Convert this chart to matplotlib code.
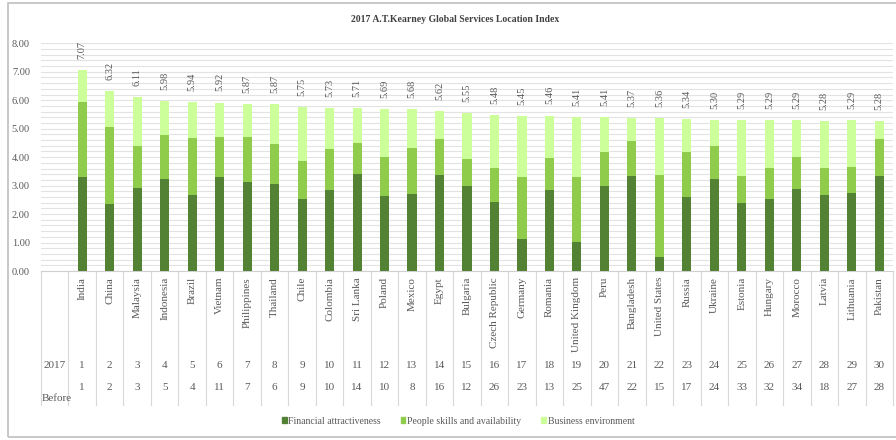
import matplotlib.pyplot as plt
from matplotlib.patches import Patch, Rectangle
from matplotlib.transforms import blended_transform_factory

plt.rcParams['font.family'] = ['Liberation Serif', 'DejaVu Serif']

# ---------------------------------------------------------------------------
# Data
# ---------------------------------------------------------------------------
countries = ["India", "China", "Malaysia", "Indonesia", "Brazil", "Vietnam",
             "Philippines", "Thailand", "Chile", "Colombia", "Sri Lanka",
             "Poland", "Mexico", "Egypt", "Bulgaria", "Czech Republic",
             "Germany", "Romania", "United Kingdom", "Peru", "Bangladesh",
             "United States", "Russia", "Ukraine", "Estonia", "Hungary",
             "Morocco", "Latvia", "Lithuania", "Pakistan"]
financial = [3.29, 2.35, 2.90, 3.24, 2.66, 3.30, 3.14, 3.04, 2.53, 2.83,
             3.41, 2.62, 2.72, 3.36, 2.97, 2.42, 1.14, 2.83, 1.02, 2.99,
             3.35, 0.50, 2.61, 3.23, 2.39, 2.52, 2.88, 2.68, 2.73, 3.35]
people = [2.65, 2.72, 1.49, 1.54, 2.00, 1.40, 1.56, 1.41, 1.33, 1.47,
          1.07, 1.38, 1.61, 1.27, 0.96, 1.20, 2.16, 1.14, 2.28, 1.18,
          1.21, 2.86, 1.56, 1.15, 0.96, 1.10, 1.12, 0.94, 0.92, 1.30]
totals = [7.07, 6.32, 6.11, 5.98, 5.94, 5.92, 5.87, 5.87, 5.75, 5.73,
          5.71, 5.69, 5.68, 5.62, 5.55, 5.48, 5.45, 5.46, 5.41, 5.41,
          5.37, 5.36, 5.34, 5.30, 5.29, 5.29, 5.29, 5.28, 5.29, 5.28]
rank_2017 = list(range(1, 31))
rank_before = [1, 2, 3, 5, 4, 11, 7, 6, 9, 10, 14, 10, 8, 16, 12, 26, 23, 13,
               25, 47, 22, 15, 17, 24, 33, 32, 34, 18, 27, 28]

business = [t - f - p for t, f, p in zip(totals, financial, people)]

C_FIN = "#548235"
C_PEO = "#8fcc4c"
C_BUS = "#ccff99"
TXT = "#595959"
GRID = "#e3e3e3"

# ---------------------------------------------------------------------------
# Figure
# ---------------------------------------------------------------------------
W, H = 896, 440
fig = plt.figure(figsize=(W / 100, H / 100), dpi=100)
ax = fig.add_axes([41 / W, 1 - 271 / H, (893 - 41) / W, (271 - 43.3) / H])

x = list(range(1, len(countries) + 1))
bottom2 = financial
bottom3 = [f + p for f, p in zip(financial, people)]
bw = 0.33
ax.bar(x, financial, bw, color=C_FIN, zorder=3)
ax.bar(x, people, bw, bottom=bottom2, color=C_PEO, zorder=3)
ax.bar(x, business, bw, bottom=bottom3, color=C_BUS, zorder=3)

for xi, t in zip(x, totals):
    ax.annotate(f"{t:.2f}", (xi, t), xytext=(0, 8), textcoords="offset points",
                rotation=90, ha="center", va="bottom", fontsize=7.5, color=TXT)

ax.set_xlim(-0.5, len(countries) + 0.5)
ax.set_ylim(0, 8)
ax.set_yticks([i for i in range(9)])
ax.set_yticklabels([f"{i:.2f}" for i in range(9)], fontsize=7.5, color=TXT)
ax.set_yticks([i * 0.2 for i in range(41)], minor=True)
ax.tick_params(axis="y", which="both", length=0, pad=8)
ax.set_xticks([])
ax.grid(axis="y", which="both", color=GRID, linewidth=0.8, zorder=0)
for s in ["left", "right", "top"]:
    ax.spines[s].set_visible(False)
ax.spines["bottom"].set_color("#d0d0d0")

# table under the axis
tr = blended_transform_factory(ax.transData, fig.transFigure)
y_top = 1 - 271 / H
y_bot = 1 - 405 / H
for i in range(len(countries) + 2):
    ax.plot([i - 0.5, i - 0.5], [y_top, y_bot], transform=tr, color="#d9d9d9",
            linewidth=0.8, clip_on=False)
for xi, name, r1, r2 in zip(x, countries, rank_2017, rank_before):
    ax.text(xi, 1 - 277 / H, name, transform=tr, rotation=90, ha="center",
            va="top", fontsize=8, color=TXT)
    ax.text(xi, 1 - 366 / H, str(r1), transform=tr, ha="center", va="center",
            fontsize=8, color=TXT)
    ax.text(xi, 1 - 387 / H, str(r2), transform=tr, ha="center", va="center",
            fontsize=8, color=TXT)
ax.text(0.0, 1 - 366 / H, "2017", transform=tr, ha="center", va="center",
        fontsize=8, color=TXT)
ax.text(-0.48, 1 - 398 / H, "Before", transform=tr, ha="left", va="center",
        fontsize=8, color=TXT)

# title
fig.text(455 / W, 1 - 20 / H, "2017 A.T.Kearney Global Services Location Index",
         ha="center", va="center", fontsize=7, fontweight="bold", color="#404040")

# legend
handles = [Patch(color=C_FIN), Patch(color=C_PEO), Patch(color=C_BUS)]
labels = ["Financial attractiveness", "People skills and availability",
          "Business environment"]
fig.legend(handles, labels, loc="center", bbox_to_anchor=(458 / W, 1 - 421 / H),
           ncol=3, frameon=False, fontsize=7, handlelength=0.5,
           handleheight=0.5, handletextpad=0.2, columnspacing=2.0,
           labelcolor=TXT)

# outer frame
fig.patches.append(Rectangle((8 / W, 1 - 437 / H), (W - 6) / W, (434) / H,
                             transform=fig.transFigure, fill=False,
                             edgecolor="#bfbfbf", linewidth=1.2))

fig.savefig("out.png", dpi=100)
